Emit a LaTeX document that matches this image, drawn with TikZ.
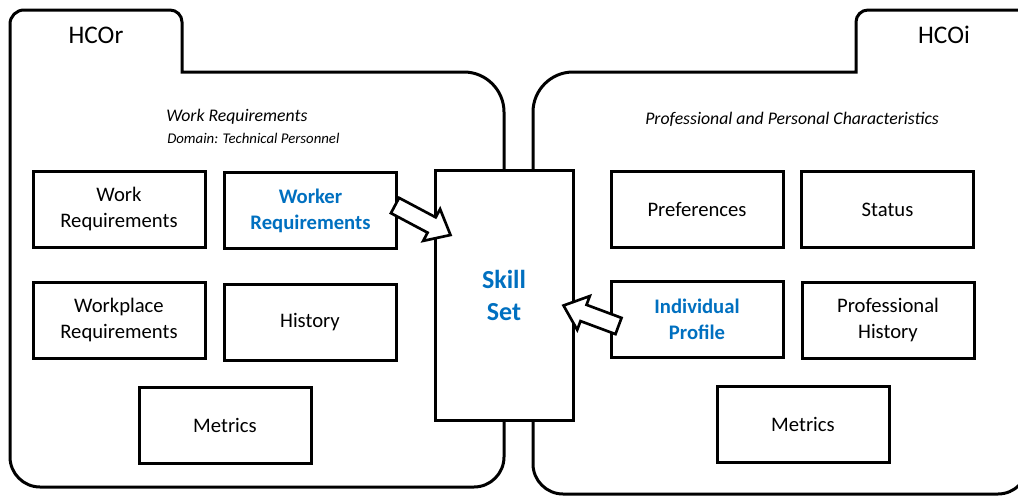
\documentclass[tikz,border=0pt]{standalone}
\usepackage{fontspec}
\setmainfont{Carlito}
\usepackage{xcolor}
\definecolor{0070c0}{HTML}{0070C0}
\usepackage{tikz}
\usetikzlibrary{calc}

\newcommand{\blockarrow}[2]{%
    \draw[line width=2pt, fill=white]
        let \p1=(#1), \p2=(#2),
            \n1={atan2(\y2-\y1,\x2-\x1)}, \n2={veclen(\x2-\x1,\y2-\y1)}
        in ($(\p1)+(\n1+90:6.5pt)$)
        -- ($(\p1)+(\n1:\n2-16pt)+(\n1+90:6.5pt)$)
        -- ($(\p1)+(\n1:\n2-16pt)+(\n1+90:13.5pt)$)
        -- (\p2)
        -- ($(\p1)+(\n1:\n2-16pt)+(\n1-90:13.5pt)$)
        -- ($(\p1)+(\n1:\n2-16pt)+(\n1-90:6.5pt)$)
        -- ($(\p1)+(\n1-90:6.5pt)$) -- cycle;}

\begin{document}
\begin{tikzpicture}[x=0.75pt, y=-0.75pt,
        box/.style={draw, line width=2.25pt, fill=white, minimum width=129pt,
            minimum height=57pt, align=center, font=\fontsize{15.5}{19.5}\selectfont},
        hl/.style={text=0070c0, font=\fontsize{15.5}{19.5}\selectfont\bfseries},
        folder/.style={draw, line width=2.25pt, fill=white},
        title/.style={font=\fontsize{19}{23}\selectfont},
        subtitle/.style={anchor=west, inner sep=0pt, font=\fontsize{13.3}{16}\selectfont\itshape}]
    \useasboundingbox (0,0) rectangle (1018,496);
    \clip (0,0) rectangle (1018,496);

    % HCOr folder
    \path[folder] (10,457) -- (10,24) .. controls (10,16.3) and (16.3,10) .. (24,10)
        -- (170,10) .. controls (176.6,10) and (182,15.4) .. (182,22) -- (182,72)
        -- (464,72) .. controls (486,72) and (504,90) .. (504,112)
        -- (504,457) .. controls (504,473.5) and (490.5,487) .. (474,487)
        -- (40,487) .. controls (23.5,487) and (10,473.5) .. (10,457) -- cycle;

    % HCOi folder
    \path[folder] (533,464) -- (533,112) .. controls (533,90) and (551,72) .. (573,72)
        -- (856,72) -- (856,22) .. controls (856,15.4) and (861.4,10) .. (868,10)
        -- (1040,10) -- (1028,10) -- (1028,464)
        .. controls (1028,480.5) and (1014.5,494) .. (998,494)
        -- (563,494) .. controls (546.5,494) and (533,480.5) .. (533,464) -- cycle;

    \node (hcor) at (96,35) [title] {HCOr};
    \node (hcoi) at (944,35) [title] {HCOi};
    \node (wrtitle) at (166,117) [subtitle] {Work Requirements};
    \node (domain) at (167,138) [subtitle, font=\fontsize{11.1}{13}\selectfont\itshape] {Domain: Technical Personnel};
    \node (pptitle) at (645,119) [subtitle] {Professional and Personal Characteristics};

    % HCOr boxes
    \node (workreq) at (119,209) [box] {Work\\Requirements};
    \node (workerreq) at (310.5,210.5) [box, hl] {Worker\\Requirements};
    \node (workplace) at (119,320) [box] {Workplace\\Requirements};
    \node (history) at (310,322) [box] {History};
    \node (metricsr) at (225,425) [box] {Metrics};

    % skill set
    \node (skillset) at (504,295.5) [box, minimum width=103.5pt, minimum height=187.5pt,
        text=0070c0, font=\fontsize{19.5}{23.5}\selectfont\bfseries] {Skill\\Set};

    % HCOi boxes
    \node (prefs) at (697,209) [box] {Preferences};
    \node (status) at (887.5,209.5) [box] {Status};
    \node (profile) at (697,319) [box, hl] {Individual\\Profile};
    \node (profhist) at (888,320) [box] {Professional\\History};
    \node (metricsi) at (803,424) [box] {Metrics};

    \coordinate (a1) at ($(workerreq.east)+(-3,-5)$);
    \coordinate (b1) at ($(skillset.north west)+(17,66)$);
    \coordinate (a2) at ($(profile.west)+(9,7)$);
    \coordinate (b2) at ($(skillset.east)+(-11,10)$);
    \blockarrow{a1}{b1}
    \blockarrow{a2}{b2}
\end{tikzpicture}
\end{document}
